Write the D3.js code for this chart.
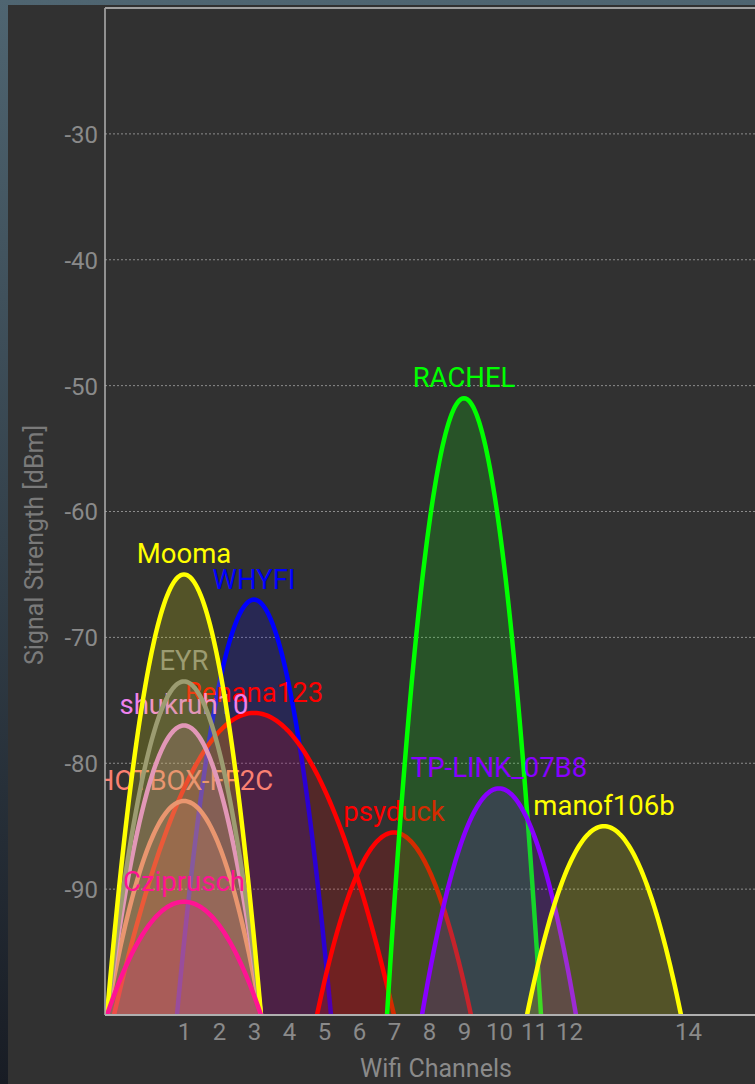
<!DOCTYPE html>
<html>
<head>
<meta charset="utf-8">
<script src="https://cdn.jsdelivr.net/npm/d3@7/dist/d3.min.js"></script>
<style>
  html, body { margin: 0; padding: 0; background: #313131; }
  svg { display: block; }
  text { font-family: Roboto, "Noto Sans", sans-serif; }
</style>
</head>
<body>
<svg id="chart" width="755" height="1084"></svg>
<script>
// ---- data ----
const networks   = ["WHYFI", "Renana123", "psyduck", "RACHEL", "TP-LINK_07B8", "manof106b", "HOTBOX-FF2C", "shukruh10", "EYR", "Mooma", "Cziprusch"];
const channels   = [3, 3, 7, 9, 10, 13, 1, 1, 1, 1, 1];
const widthsMHz  = [22, 40, 22, 22, 22, 22, 22, 22, 22, 22, 22];
const signals    = [-67, -76, -85.5, -51, -82, -85, -83, -77, -73.5, -65, -91];
const colors     = ["#0000ff", "#ff0000", "#ff0000", "#00ff00", "#8800ff", "#ffff00", "#fa8072", "#ee82ee", "#888888", "#ffff00", "#ff1493"];
const yTicks     = [-30, -40, -50, -60, -70, -80, -90];
const xTickChannels = [1, 2, 3, 4, 5, 6, 7, 8, 9, 10, 11, 12, 14];

const chanFreq = c => c === 14 ? 2484 : 2407 + 5 * c;

const svg = d3.select("#chart");
const W = 755, H = 1084;
const plot = { left: 105, top: 8, right: 805, bottom: 1015 };

// background
const defs = svg.append("defs");
const grad = defs.append("linearGradient").attr("id", "bg").attr("x1", 0).attr("y1", 0).attr("x2", 0).attr("y2", 1);
grad.append("stop").attr("offset", "0%").attr("stop-color", "#4f6571");
grad.append("stop").attr("offset", "100%").attr("stop-color", "#181c24");
svg.append("rect").attr("width", W).attr("height", H).attr("fill", "url(#bg)");
svg.append("rect").attr("x", 8).attr("y", 5).attr("width", W - 8).attr("height", H - 5).attr("fill", "#313131");

defs.append("clipPath").attr("id", "plotclip").append("rect")
  .attr("x", plot.left).attr("y", plot.top)
  .attr("width", plot.right - plot.left).attr("height", plot.bottom - plot.top);

const x = d3.scaleLinear().domain([2412, 2484]).range([184, 688]);
const y = d3.scaleLinear().domain([-100, -20]).range([plot.bottom, plot.top]);

// grid
const grid = svg.append("g");
grid.selectAll("line").data(yTicks).join("line")
  .attr("x1", plot.left).attr("x2", W)
  .attr("y1", d => y(d)).attr("y2", d => y(d))
  .attr("stroke", "#8c8c8c").attr("stroke-width", 1).attr("stroke-dasharray", "2,2");

// y axis tick labels
const yAxis = d3.axisLeft(y).tickValues(yTicks).tickFormat(d => String(d)).tickSize(0).tickPadding(7);
const gy = svg.append("g").attr("transform", `translate(${plot.left},0)`).call(yAxis);
gy.select(".domain").remove();
gy.selectAll("text").attr("fill", "#8a8a8a").style("font-size", "24px").attr("dy", "0.35em");

// x axis tick labels
const xAxis = d3.axisBottom(x).tickValues(xTickChannels.map(chanFreq))
  .tickFormat((d, i) => xTickChannels[i]).tickSize(0).tickPadding(8);
const gx = svg.append("g").attr("transform", `translate(0,${plot.bottom})`).call(xAxis);
gx.select(".domain").remove();
gx.selectAll("text").attr("fill", "#8a8a8a").style("font-size", "24px").attr("dy", "0.71em");

// curves: one group per network (fill, label, stroke)
const curveG = svg.append("g").attr("clip-path", "url(#plotclip)");
const line = d3.line().x(d => x(d[0])).y(d => y(d[1]));
networks.forEach((name, i) => {
  const c = chanFreq(channels[i]);
  const half = widthsMHz[i] / 2;
  const peak = signals[i];
  const pts = d3.range(0, 101).map(k => {
    const f = c - half + (2 * half) * k / 100;
    const u = (f - c) / half;
    return [f, -100 + (peak + 100) * (1 - u * u)];
  });
  const g = curveG.append("g");
  g.append("path").attr("d", line(pts) + "Z")
    .attr("fill", colors[i]).attr("fill-opacity", 0.17).attr("stroke", "none");
  g.append("text").attr("x", x(c)).attr("y", y(peak) - 11)
    .attr("text-anchor", "middle").attr("fill", colors[i])
    .style("font-size", "27.5px").text(name);
  g.append("path").attr("d", line(pts))
    .attr("fill", "none").attr("stroke", colors[i]).attr("stroke-width", 4.5);
});

// plot border
svg.append("line").attr("x1", plot.left).attr("x2", plot.left).attr("y1", plot.top).attr("y2", plot.bottom)
  .attr("stroke", "#b0b0b0").attr("stroke-width", 1.5);
svg.append("line").attr("x1", plot.left).attr("x2", W).attr("y1", plot.top).attr("y2", plot.top)
  .attr("stroke", "#a0a0a0").attr("stroke-width", 2);
svg.append("line").attr("x1", plot.left).attr("x2", W).attr("y1", plot.bottom).attr("y2", plot.bottom)
  .attr("stroke", "#b0b0b0").attr("stroke-width", 2);

// axis titles
svg.append("text").attr("transform", "translate(43,545) rotate(-90)")
  .attr("text-anchor", "middle").attr("fill", "#7a7a7a").style("font-size", "25px")
  .text("Signal Strength [dBm]");
svg.append("text").attr("x", 436).attr("y", 1077)
  .attr("text-anchor", "middle").attr("fill", "#8a8a8a").style("font-size", "25px")
  .text("Wifi Channels");
</script>
</body>
</html>
